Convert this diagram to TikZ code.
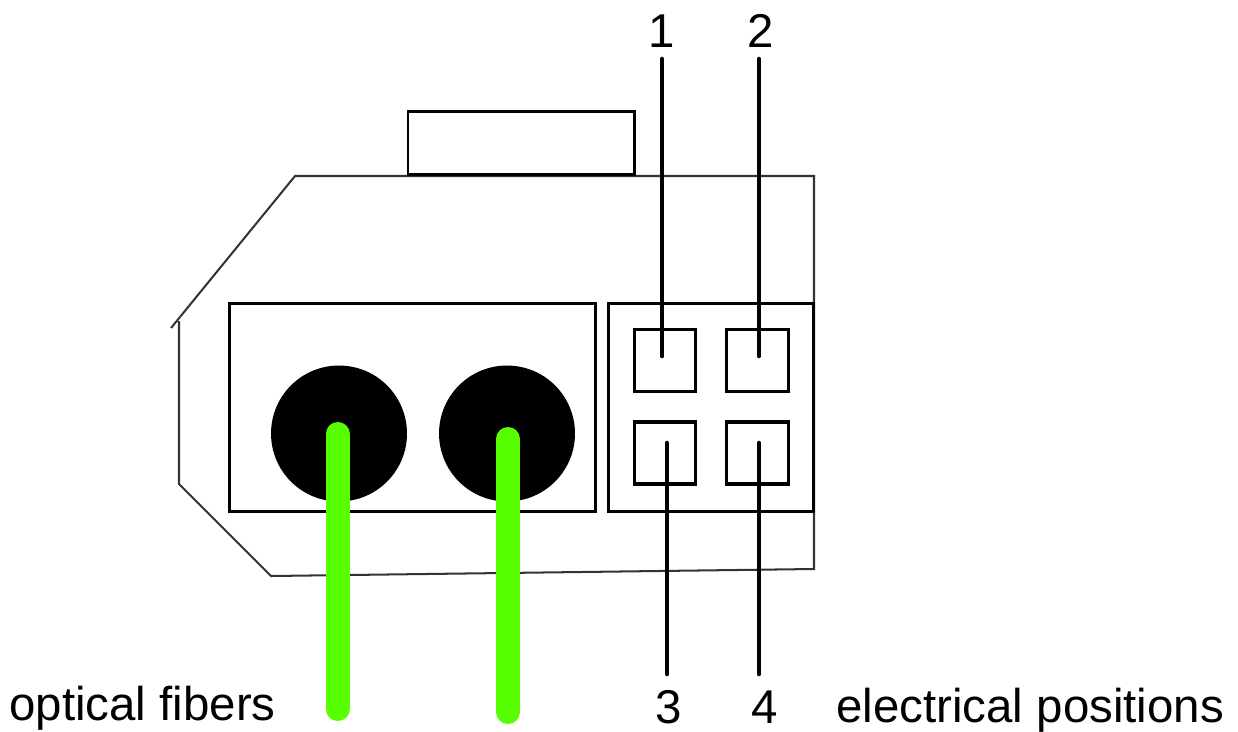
\documentclass[tikz,border=0pt]{standalone}
\usepackage{fontspec}
\setmainfont{Liberation Sans}
\usepackage{tikz}
\usetikzlibrary{positioning, calc}

\definecolor{fibergreen}{RGB}{88,255,0}

\tikzset{
  pinbox/.style={draw=black, line width=1.8pt, minimum width=1.23cm, minimum height=1.24cm, inner sep=0pt},
  baybox/.style={draw=black, line width=1.8pt, minimum height=4.16cm, inner sep=0pt, anchor=north west},
  lens/.style={circle, fill=black, minimum size=2.72cm, inner sep=0pt},
  fiber/.style={draw=fibergreen, line width=0.48cm, line cap=round},
  pinline/.style={draw=black, line width=2.6pt, line cap=round},
  lbl/.style={font=\fontsize{27pt}{31pt}\selectfont, inner sep=0pt}
}

\begin{document}
\begin{tikzpicture}[x=0.02cm, y=-0.02cm]
  \useasboundingbox (0,0) rectangle (1238,731);

  % Housing
  \draw[line width=1.15pt, draw=black!80] (171,328) -- (295,176) -- (814,176) -- (814,569) -- (271,576) -- (179,484) -- (179,321);

  % Latch
  \node[draw=black, line width=1.5pt, minimum width=4.54cm, minimum height=1.26cm, inner sep=0pt, anchor=south west] (latch) at (406.5,175.5) {};

  % Two bays
  \node[baybox, minimum width=7.32cm] (optbay) at (228,302) {};
  \node[baybox, minimum width=4.1cm] (elecbay) at (607,302) {};

  % Lenses
  \node[lens] (lensa) at (339,433.5) {};
  \node[lens] (lensb) at (507,433.5) {};

  % Pin boxes
  \node[pinbox] (pina) at (665,360.5) {};
  \node[pinbox] (pinb) at (757.5,360.5) {};
  \node[pinbox] (pinc) at (665,453) {};
  \node[pinbox] (pind) at (757.5,453) {};

  % Labels
  \node[lbl] (numa) at (662,31) {1};
  \node[lbl] (numb) at (761,31) {2};
  \node[lbl] (numc) at (669,707) {3};
  \node[lbl] (numd) at (765,707) {4};
  \node[lbl, anchor=west] (optlabel) at (9,708) {optical fibers};
  \node[lbl, anchor=west] (eleclabel) at (836,710) {electrical positions};

  % Wires
  \coordinate (enda) at (662,356);
  \coordinate (endb) at (759,356);
  \coordinate (endc) at (667,443);
  \coordinate (endd) at (759,443);
  \coordinate (topa) at (662,59);
  \coordinate (topb) at (759,59);
  \coordinate (botc) at (667,674);
  \coordinate (botd) at (759,674);
  \draw[pinline] (topa) -- (enda);
  \draw[pinline] (topb) -- (endb);
  \draw[pinline] (botc) -- (endc);
  \draw[pinline] (botd) -- (endd);

  % Fibers
  \coordinate (fibera) at (337.5,434);
  \coordinate (fiberb) at (508,439);
  \coordinate (taila) at (337.5,709);
  \coordinate (tailb) at (508,712);
  \draw[fiber] (fibera) -- (taila);
  \draw[fiber] (fiberb) -- (tailb);
\end{tikzpicture}
\end{document}
